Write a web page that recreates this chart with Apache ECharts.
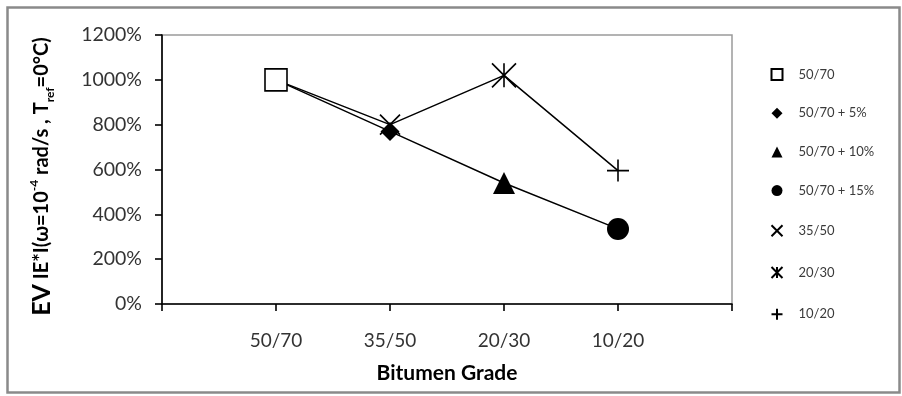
<!DOCTYPE html>
<html>
<head>
<meta charset="utf-8">
<script src="https://cdn.jsdelivr.net/npm/echarts@6/dist/echarts.min.js"></script>
<style>
html,body{margin:0;padding:0;background:#fff;}
#chart{width:902px;height:396px;}
</style>
</head>
<body>
<div id="chart"></div>
<script>
// ---- data ----
var categories = ['', '50/70', '35/50', '20/30', '10/20', ' '];
var yTicks = [0, 200, 400, 600, 800, 1000, 1200];

var lineUpperCats = ['50/70', '35/50', '20/30', '10/20'];
var lineUpperValues = [1000, 800, 1020, 595];
var lineLowerCats = ['50/70', '35/50', '20/30', '10/20'];
var lineLowerValues = [1000, 770, 540, 335];

var pointNames = ['50/70', '50/70 + 5%', '50/70 + 10%', '50/70 + 15%', '35/50', '20/30', '10/20'];
var pointCats = ['50/70', '35/50', '20/30', '10/20', '35/50', '20/30', '10/20'];
var pointValues = [1000, 770, 540, 335, 800, 1020, 595];

// ---- styling ----
var FONT = 'Lato';
var symX = 'path://M0,0L10,10M10,0L0,10';
var symStar = 'path://M0,0L10,10M10,0L0,10M5,0L5,10';
var symPlus = 'path://M5,0L5,10M0,5L10,5';
var markerStyles = [
  {symbol: 'rect', size: 22, style: {color: '#fff', borderColor: '#000', borderWidth: 1.6, opacity: 1}},
  {symbol: 'diamond', size: 19, style: {color: '#000', opacity: 1}},
  {symbol: 'triangle', size: 22, style: {color: '#000', opacity: 1}},
  {symbol: 'circle', size: 22, style: {color: '#000', opacity: 1}},
  {symbol: symX, size: 20, style: {color: 'none', borderColor: '#000', borderWidth: 1.6, opacity: 1}},
  {symbol: symStar, size: 24, style: {color: 'none', borderColor: '#000', borderWidth: 1.6, opacity: 1}},
  {symbol: symPlus, size: 22, style: {color: 'none', borderColor: '#000', borderWidth: 1.6, opacity: 1}}
];

function pairs(cats, vals) {
  return cats.map(function (c, i) { return [c, vals[i]]; });
}

var series = [
  {type: 'line', name: 'lineUpper', data: pairs(lineUpperCats, lineUpperValues), showSymbol: false, symbol: 'none',
   lineStyle: {color: '#000', width: 1.5}, silent: true, z: 1},
  {type: 'line', name: 'lineLower', data: pairs(lineLowerCats, lineLowerValues), showSymbol: false, symbol: 'none',
   lineStyle: {color: '#000', width: 1.5}, silent: true, z: 1}
];
pointNames.forEach(function (n, i) {
  var m = markerStyles[i];
  series.push({
    type: 'scatter', name: n, data: [[pointCats[i], pointValues[i]]],
    symbol: m.symbol, symbolSize: m.size, itemStyle: m.style, z: 3
  });
});

var chart = echarts.init(document.getElementById('chart'));
chart.setOption({
  animation: false,
  backgroundColor: '#fff',
  graphic: [{
    type: 'rect', left: 5, top: 5, shape: {width: 892, height: 385},
    style: {fill: 'none', stroke: '#8a8a8a', lineWidth: 2.5}, silent: true
  }],
  grid: {left: 162, right: 170, top: 35, bottom: 92, show: true, borderColor: '#9a9a9a', borderWidth: 1.5, backgroundColor: 'transparent'},
  legend: {
    data: pointNames, orient: 'vertical', left: 764, top: 63,
    itemWidth: 11, itemHeight: 11, itemGap: 25.7,
    textStyle: {fontFamily: FONT, fontSize: 13, color: '#3a3a3a', padding: [0, 0, 0, 11]}
  },
  xAxis: {
    type: 'category', data: categories, boundaryGap: false,
    axisLine: {lineStyle: {color: '#000', width: 1.6}},
    axisTick: {show: true, length: 7, inside: false, lineStyle: {color: '#000', width: 1.6}},
    axisLabel: {margin: 27, fontFamily: FONT, fontSize: 19, color: '#333', interval: 0},
    splitLine: {show: false},
    name: 'Bitumen Grade', nameLocation: 'middle', nameGap: 59,
    nameTextStyle: {fontFamily: FONT, fontSize: 21, fontWeight: 'bold', color: '#000'}
  },
  yAxis: {
    type: 'value', min: yTicks[0], max: yTicks[yTicks.length - 1], interval: yTicks[1] - yTicks[0],
    axisLine: {show: true, lineStyle: {color: '#000', width: 1.6}},
    axisTick: {show: true, length: 7, lineStyle: {color: '#000', width: 1.6}},
    axisLabel: {margin: 20, fontFamily: FONT, fontSize: 19.5, color: '#333', formatter: function (v) { return v + '%'; }},
    splitLine: {show: false},
    name: '{ev|EV} {m|IE*I(ω=10}{sup|-4}{m| rad/s , T}{sub|ref}{m|=0°C)}',
    nameLocation: 'middle', nameRotate: 90, nameGap: 106,
    nameTextStyle: {
      fontFamily: FONT, fontWeight: 'bold', color: '#000', fontSize: 20, lineHeight: 28,
      padding: [0, 14, 0, 0],
      rich: {
        ev: {fontFamily: FONT, fontWeight: 'bold', fontSize: 25, lineHeight: 28, color: '#000'},
        m: {fontFamily: FONT, fontWeight: 'bold', fontSize: 20, lineHeight: 28, color: '#000'},
        sup: {fontFamily: FONT, fontWeight: 'bold', fontSize: 12, lineHeight: 13, verticalAlign: 'top', color: '#000'},
        sub: {fontFamily: FONT, fontWeight: 'bold', fontSize: 12, lineHeight: 13, verticalAlign: 'bottom', color: '#000'}
      }
    }
  },
  series: series
});
</script>
</body>
</html>
